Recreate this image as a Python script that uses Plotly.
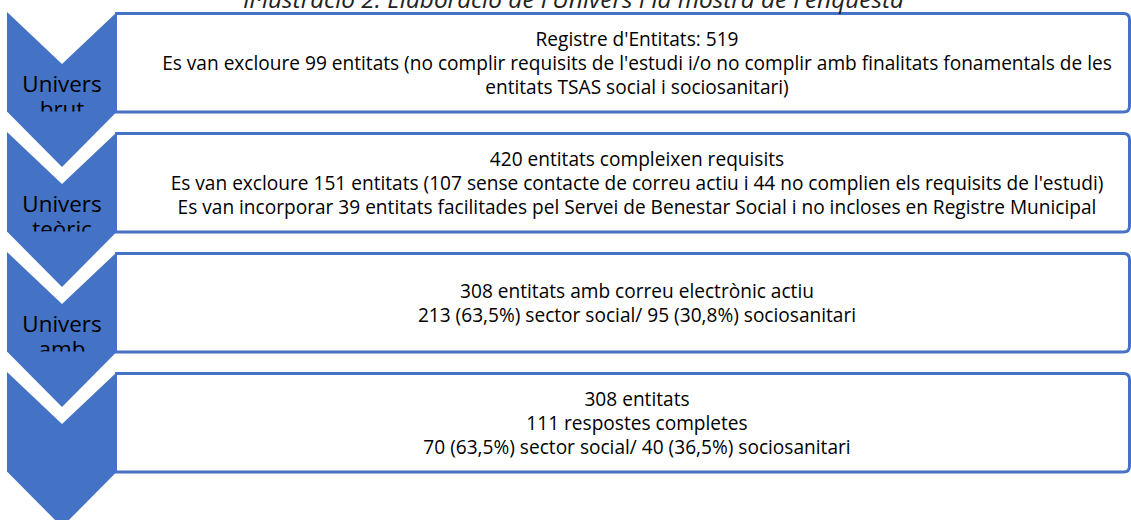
import plotly.graph_objects as go

# ---- data ----
stage_label_lines = [["Univers", "brut"], ["Univers", "teòric"], ["Univers", "amb"], []]
box_text_lines = [
    ["Registre d'Entitats: 519",
     "Es van excloure 99 entitats (no complir requisits de l'estudi i/o no complir amb finalitats fonamentals de les",
     "entitats TSAS social i sociosanitari)"],
    ["420 entitats compleixen requisits",
     "Es van excloure 151 entitats (107 sense contacte de correu actiu i 44 no complien els requisits de l'estudi)",
     "Es van incorporar 39 entitats facilitades pel Servei de Benestar Social i no incloses en Registre Municipal"],
    ["308 entitats amb correu electrònic actiu",
     "213 (63,5%) sector social/ 95 (30,8%) sociosanitari"],
    ["308 entitats",
     "111 respostes completes",
     "70 (63,5%) sector social/ 40 (36,5%) sociosanitari"],
]
title_text = "Il·lustració 2. Elaboració de l'Univers i la mostra de l'enquesta"

# ---- layout constants (pixel space) ----
W, H = 1131, 520
BLUE = "#4472C4"
X0, X1 = 7, 117          # chevron left/right
XC = (X0 + X1) / 2
TOP0, STEP = 12, 120     # first chevron top and vertical step
NOTCH, SIDE, POINT = 52, 100, 155
BOX_R = 1129.5
TEXT_CX = 637
LINE_GAP = 24
FONT = "Open Sans"

shapes = []
tx, ty, tt = [], [], []
lx, ly, lt = [], [], []

for i, lines in enumerate(box_text_lines):
    top = TOP0 + STEP * i
    bt, bb = top + 1.5, top + SIDE
    r = 6
    shapes.append(dict(type="path", layer="below",
                       path=f"M {X1-2},{bt} L {BOX_R-r},{bt} Q {BOX_R},{bt} {BOX_R},{bt+r} "
                            f"L {BOX_R},{bb-r} Q {BOX_R},{bb} {BOX_R-r},{bb} L {X1-2},{bb}",
                       line=dict(color=BLUE, width=3), fillcolor="white"))
    shapes.append(dict(type="path", layer="below",
                       path=f"M {X0},{top} L {XC},{top+NOTCH} L {X1},{top} L {X1},{top+SIDE} "
                            f"L {X0},{top+SIDE} Z",
                       line=dict(width=0), fillcolor=BLUE))
    shapes.append(dict(type="path", layer="above",
                       path=f"M {X0},{top+SIDE-0.5} L {X1},{top+SIDE-0.5} L {XC},{top+POINT} Z",
                       line=dict(width=0), fillcolor=BLUE))
    n = len(lines)
    cy = top + SIDE / 2 + 3.5
    for k, s in enumerate(lines):
        tx.append(TEXT_CX)
        ty.append(cy + (k - (n - 1) / 2) * LINE_GAP)
        tt.append(s)
    for k, s in enumerate(stage_label_lines[i]):
        lx.append(XC)
        ly.append(top + 74 + 25 * k)
        lt.append(s)

fig = go.Figure()
fig.add_trace(go.Scatter(x=tx, y=ty, text=tt, mode="text", textposition="middle center",
                         textfont=dict(family=FONT, size=19.1, color="#000000"),
                         hoverinfo="skip", showlegend=False))
fig.add_trace(go.Scatter(x=lx, y=ly, text=lt, mode="text", textposition="middle center",
                         textfont=dict(family=FONT, size=22.4, color="#000000"),
                         hoverinfo="skip", showlegend=False))

fig.add_annotation(x=573, y=7, xref="x", yref="y", text=f"<i>{title_text}</i>",
                   showarrow=False, xanchor="center", yanchor="bottom", yshift=-10,
                   font=dict(family=FONT, size=24.4, color="#222222"))

fig.update_layout(
    width=W, height=H, margin=dict(l=0, r=0, t=0, b=0),
    paper_bgcolor="white", plot_bgcolor="white",
    shapes=shapes,
    xaxis=dict(range=[0, W], visible=False, fixedrange=True),
    yaxis=dict(range=[H, 0], visible=False, fixedrange=True),
)
fig.write_html("out.html", config={"displayModeBar": False},
               post_script="document.body.style.margin='0';document.body.style.overflow='hidden';")
